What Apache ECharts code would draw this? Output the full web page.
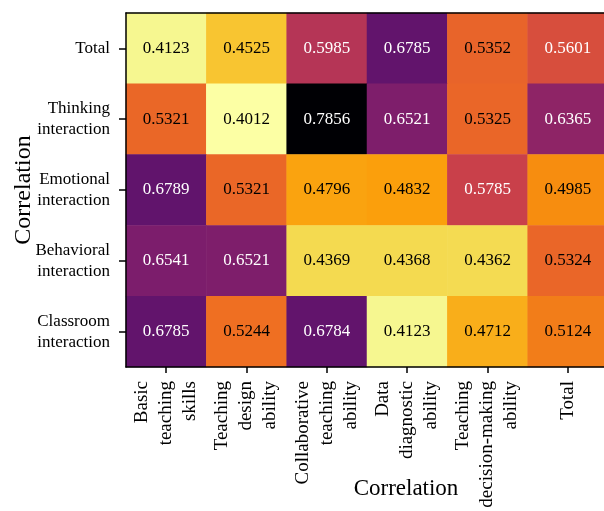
<!DOCTYPE html>
<html>
<head>
<meta charset="utf-8">
<script src="https://cdn.jsdelivr.net/npm/echarts@6/dist/echarts.min.js"></script>
<style>
  html, body { margin: 0; padding: 0; background: #fff; }
  #main { width: 604px; height: 511px; }
</style>
</head>
<body>
<div id="main"></div>
<script>
// columns (x) and rows (y, listed top to bottom)
const colNames = [
  "Basic\nteaching\nskills",
  "Teaching\ndesign\nability",
  "Collaborative\nteaching\nability",
  "Data\ndiagnostic\nability",
  "Teaching\ndecision-making\nability",
  "Total"
];
const rowNames = [
  "Total",
  "Thinking\ninteraction",
  "Emotional\ninteraction",
  "Behavioral\ninteraction",
  "Classroom\ninteraction"
];
const totalRow      = [0.4123, 0.4525, 0.5985, 0.6785, 0.5352, 0.5601];
const thinkingRow   = [0.5321, 0.4012, 0.7856, 0.6521, 0.5325, 0.6365];
const emotionalRow  = [0.6789, 0.5321, 0.4796, 0.4832, 0.5785, 0.4985];
const behavioralRow = [0.6541, 0.6521, 0.4369, 0.4368, 0.4362, 0.5324];
const classroomRow  = [0.6785, 0.5244, 0.6784, 0.4123, 0.4712, 0.5124];
const rows = [totalRow, thinkingRow, emotionalRow, behavioralRow, classroomRow];

// inferno colormap stops (position, colour)
const infernoPos = [0, 0.111, 0.222, 0.333, 0.444, 0.556, 0.667, 0.778, 0.889, 0.93, 0.965, 1];
const infernoCol = ["#000004", "#1b0c42", "#4b0c6b", "#781c6d", "#a52c60", "#cf4446",
                    "#ed6925", "#fb9a06", "#f7d03c", "#f1e86a", "#f5f58c", "#fcffa4"];
function inferno(t) {
  for (let k = 1; k < infernoPos.length; k++) {
    if (t <= infernoPos[k]) {
      const f = (t - infernoPos[k - 1]) / (infernoPos[k] - infernoPos[k - 1]);
      return echarts.color.lerp(f, [infernoCol[k - 1], infernoCol[k]]);
    }
  }
  return infernoCol[infernoCol.length - 1];
}
// reversed: high values dark
const ramp = [];
for (let k = 0; k <= 40; k++) ramp.push(inferno(1 - k / 40));

const font = "Liberation Serif";
const data = [];
let vmin = Infinity, vmax = -Infinity;
rows.forEach((r, i) => {
  r.forEach((v, j) => {
    vmin = Math.min(vmin, v);
    vmax = Math.max(vmax, v);
    data.push({
      value: [j, i, v],
      label: { color: v > 0.55 ? "#fff" : "#000" }
    });
  });
});

const myChart = echarts.init(document.getElementById("main"));
myChart.setOption({
  animation: false,
  grid: {
    left: 126,
    top: 13,
    right: -4,
    bottom: 144,
    outerBoundsMode: "none",
    containLabel: false
  },
  xAxis: [
    {
      type: "category",
      data: colNames,
      z: 10,
      name: "Correlation",
      nameLocation: "middle",
      nameGap: 110,
      nameMoveOverlap: false,
      nameTextStyle: { fontFamily: font, fontSize: 23, color: "#000", padding: [0, 0, 0, 78] },
      axisLine: { show: true, lineStyle: { color: "#000", width: 1.5 } },
      axisTick: { show: true, alignWithLabel: true, length: 6, lineStyle: { color: "#000", width: 1.5 } },
      axisLabel: {
        rotate: 90,
        interval: 0,
        margin: 14,
        fontFamily: font,
        fontSize: 19,
        lineHeight: 24,
        color: "#000"
      },
      splitLine: { show: false }
    },
    {
      type: "category",
      position: "top",
      data: colNames,
      z: 10,
      axisLine: { show: true, lineStyle: { color: "#000", width: 1.5 } },
      axisTick: { show: false },
      axisLabel: { show: false }
    }
  ],
  yAxis: {
    type: "category",
    data: rowNames,
    inverse: true,
    z: 10,
    name: "Correlation",
    nameLocation: "middle",
    nameGap: 90,
    nameMoveOverlap: false,
    nameTextStyle: { fontFamily: font, fontSize: 24, color: "#000" },
    axisLine: { show: true, lineStyle: { color: "#000", width: 1.5 } },
    axisTick: { show: true, alignWithLabel: true, length: 7, lineStyle: { color: "#000", width: 1.5 } },
    axisLabel: {
      margin: 16,
      fontFamily: font,
      fontSize: 17,
      lineHeight: 21,
      color: "#000",
      align: "right"
    },
    splitLine: { show: false }
  },
  visualMap: {
    show: false,
    min: vmin,
    max: vmax,
    dimension: 2,
    inRange: { color: ramp }
  },
  series: [
    {
      type: "heatmap",
      data: data,
      label: {
        show: true,
        fontFamily: font,
        fontSize: 17,
        formatter: (p) => p.value[2].toFixed(4)
      },
      itemStyle: { borderWidth: 0 }
    }
  ]
});
window.addEventListener("resize", function () {
  myChart.resize();
});
</script>
</body>
</html>
